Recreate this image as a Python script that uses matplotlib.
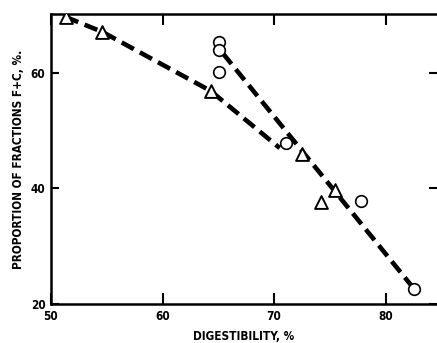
import matplotlib
matplotlib.use("Agg")
import matplotlib.pyplot as plt

# Observed points
tri_x = [51.3, 54.6, 64.3, 72.5, 75.5, 74.2]
tri_y = [69.7, 67.1, 56.9, 46.0, 39.7, 37.7]
circ_x = [65.1, 65.1, 65.1, 71.1, 77.8, 82.5]
circ_y = [65.4, 64.0, 60.2, 47.9, 37.9, 22.6]

# Fitted trend lines
fit1_x = [51.3, 54.6, 64.3, 70.5]
fit1_y = [69.7, 67.1, 56.9, 47.0]
fit2_x = [65.4, 82.3]
fit2_y = [63.4, 23.2]

xticks = [50, 60, 70, 80]
yticks = [20, 40, 60]

font = dict(family="DejaVu Sans", fontstretch="condensed", fontweight="bold")

fig = plt.figure(figsize=(4.37, 3.43), dpi=100)
ax = fig.add_axes([51 / 437, 39 / 343, 386 / 437, 290 / 343])

dash = dict(color="black", lw=3.3, dashes=(3.0, 1.5), solid_capstyle="butt")
ax.plot(fit1_x, fit1_y, **dash, zorder=2)
ax.plot(fit2_x, fit2_y, **dash, zorder=2)

ax.scatter(tri_x, tri_y, marker="^", s=85, facecolors="white",
           edgecolors="black", linewidths=1.4, zorder=3)
ax.scatter(circ_x, circ_y, marker="o", s=70, facecolors="white",
           edgecolors="black", linewidths=1.2, zorder=3)

ax.set_xlim(50, 84.6)
ax.set_ylim(20, 70.2)
ax.set_xticks(xticks)
ax.set_yticks(yticks)
ax.set_xticklabels([str(v) for v in xticks], **font, fontsize=8.5)
ax.set_yticklabels([str(v) for v in yticks], **font, fontsize=8.5)

for side in ("left", "bottom", "top"):
    ax.spines[side].set_linewidth(1.8)
ax.spines["right"].set_visible(False)

ax.tick_params(direction="in", top=True, right=False, length=8, width=1.5,
               pad=4)
ax.tick_params(axis="y", which="major", right=True, length=6)

ax.set_xlabel("DIGESTIBILITY, %", **font, fontsize=8.5, labelpad=5)
ax.set_ylabel("PROPORTION OF FRACTIONS F+C, %.", **font, fontsize=8.5,
              labelpad=4)

fig.savefig("out.png", dpi=100)
